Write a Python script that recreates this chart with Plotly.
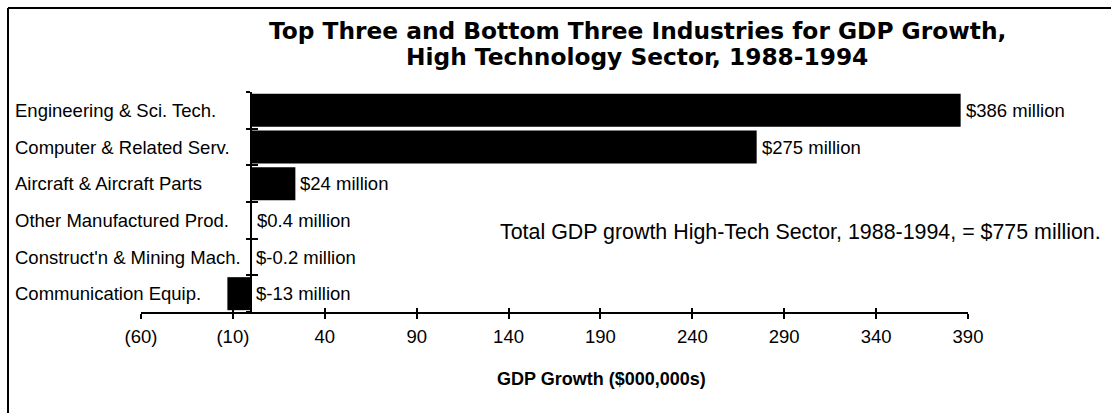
import plotly.graph_objects as go

categories = ["Engineering & Sci. Tech.", "Computer & Related Serv.", "Aircraft & Aircraft Parts",
              "Other Manufactured Prod.", "Construct'n & Mining Mach.", "Communication Equip."]
values = [386, 275, 24, 0.4, -0.2, -13]
bar_labels = ["$386 million", "$275 million", "$24 million", "$0.4 million", "$-0.2 million", "$-13 million"]
tick_vals = [-60, -10, 40, 90, 140, 190, 240, 290, 340, 390]
tick_text = ["(60)", "(10)", "40", "90", "140", "190", "240", "290", "340", "390"]
x_range = [-60, 390]
title_lines = ["Top Three and Bottom Three Industries for GDP Growth,",
               "High Technology Sector, 1988-1994"]
x_title = "GDP Growth ($000,000s)"
note_text = "Total GDP growth High-Tech Sector, 1988-1994, = $775 million."

FONT = "Arial, 'Liberation Sans', sans-serif"
TITLE_FONT = "'DejaVu Sans', Arial, sans-serif"
W, H = 1111, 413
ML, MR, MT, MB = 141, 143, 92, 101
PW = W - ML - MR
PH = H - MT - MB

def px_x(p):
    return (p - ML) / PW

def px_y(p):
    return 1 - (p - MT) / PH

zero_pos = (0 - x_range[0]) / (x_range[1] - x_range[0])
cat_order = list(reversed(categories))
y_range = [-0.5, len(categories) - 0.5]

fig = go.Figure()
fig.add_trace(go.Bar(x=values, y=categories, orientation="h",
                     marker=dict(color="black", line=dict(width=0)),
                     showlegend=False, hoverinfo="skip"))
fig.add_trace(go.Scatter(x=[0] * len(categories), y=categories, mode="markers",
                         marker=dict(opacity=0, size=1),
                         xaxis="x2", yaxis="y2", showlegend=False, hoverinfo="skip"))

annotations = []
for c, v, t in zip(categories, values, bar_labels):
    annotations.append(dict(x=max(v, 0), y=c, xref="x", yref="y", text=t, showarrow=False,
                            xanchor="left", yanchor="middle", xshift=3,
                            font=dict(family=FONT, size=18.5, color="black")))
for c in categories:
    annotations.append(dict(x=px_x(13), y=c, xref="paper", yref="y", text=c, showarrow=False,
                            xanchor="left", yanchor="middle",
                            font=dict(family=FONT, size=18.5, color="black")))
annotations.append(dict(x=px_x(498), y=px_y(232), xref="paper", yref="paper", text=note_text,
                        showarrow=False, xanchor="left", yanchor="middle",
                        font=dict(family=FONT, size=21.4, color="black")))
annotations.append(dict(x=px_x(495), y=px_y(379), xref="paper", yref="paper",
                        text="<b>" + x_title + "</b>", showarrow=False, xanchor="left", yanchor="middle",
                        font=dict(family=FONT, size=18, color="black")))
for line, yc in zip(title_lines, [30, 57]):
    annotations.append(dict(x=px_x(637), y=px_y(yc), xref="paper", yref="paper",
                            text="<b>" + line + "</b>", showarrow=False, xanchor="center",
                            yanchor="middle", font=dict(family=TITLE_FONT, size=23.3, color="black")))

shapes = [
    dict(type="line", xref="paper", yref="paper", x0=px_x(8), x1=px_x(1120), y0=px_y(8), y1=px_y(8),
         line=dict(color="black", width=2)),
    dict(type="line", xref="paper", yref="paper", x0=px_x(8), x1=px_x(8), y0=px_y(8), y1=px_y(420),
         line=dict(color="black", width=2)),
]

fig.update_layout(
    width=W, height=H,
    margin=dict(l=ML, r=MR, t=MT, b=MB, pad=0),
    paper_bgcolor="white", plot_bgcolor="white",
    bargap=0.1,
    xaxis=dict(range=x_range, tickvals=tick_vals, ticktext=tick_text, showgrid=False, zeroline=False,
               showline=True, linecolor="black", linewidth=1.5, ticks="outside", ticklen=5,
               tickwidth=1.5, tickcolor="black", ticklabelstandoff=2,
               tickfont=dict(family=FONT, size=18.5, color="black")),
    xaxis2=dict(overlaying="x", range=x_range, anchor="y", tickvals=tick_vals, showgrid=False,
                zeroline=False, showline=False, ticks="inside", ticklen=4, tickwidth=1.5,
                tickcolor="black", showticklabels=False),
    yaxis=dict(type="category", categoryorder="array", categoryarray=cat_order, range=y_range,
               anchor="free", position=zero_pos, showgrid=False, zeroline=False,
               showline=True, linecolor="black", linewidth=2, ticks="outside", tickson="boundaries",
               ticklen=4, tickwidth=1.5, tickcolor="black", showticklabels=False),
    yaxis2=dict(type="category", categoryorder="array", categoryarray=cat_order, overlaying="y",
                range=y_range, anchor="free", position=zero_pos, showgrid=False, zeroline=False,
                showline=False, ticks="inside", tickson="boundaries", ticklen=6, tickwidth=1.5,
                tickcolor="black", showticklabels=False),
    annotations=annotations,
    shapes=shapes,
)

fig.write_html("out.html")
